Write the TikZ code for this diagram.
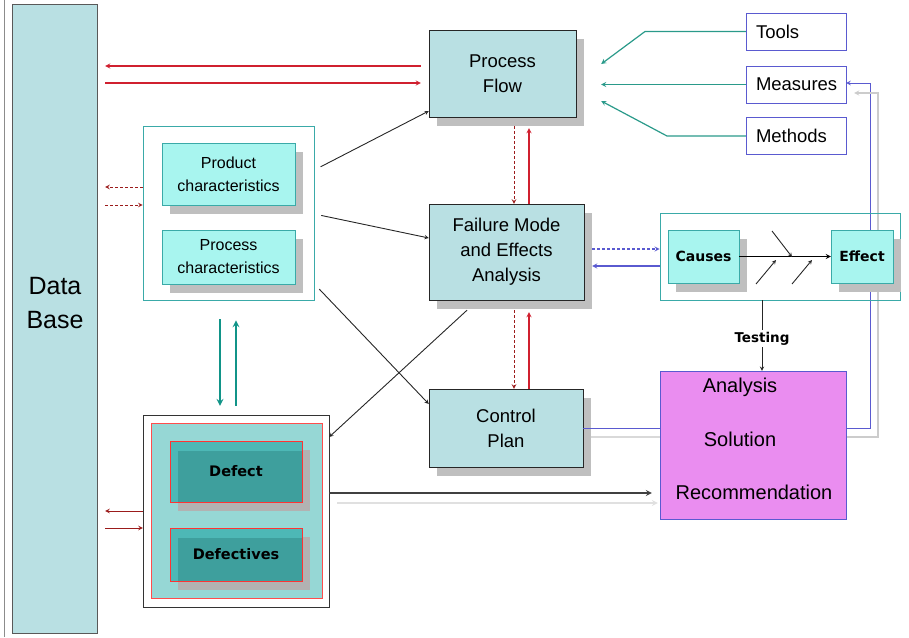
\documentclass[tikz,border=0pt]{standalone}
\usepackage{fontspec}
\setmainfont{Liberation Sans}
\newfontfamily\verdfont{DejaVu Sans}
\usetikzlibrary{shadows,backgrounds}
\definecolor{boxblue}{HTML}{B9E0E3}
\definecolor{aqua}{HTML}{A8F5EF}
\definecolor{charline}{HTML}{3AAAA8}
\definecolor{listblue}{HTML}{5A5AD0}
\definecolor{flowred}{HTML}{D0202F}
\definecolor{darkred}{HTML}{9B1B1B}
\definecolor{tooltea}{HTML}{2A9A8A}
\definecolor{thickteal}{HTML}{119488}
\definecolor{violetfill}{HTML}{EA8DF0}
\definecolor{definner}{HTML}{96D7D5}
\definecolor{defteal}{HTML}{4DB8B6}
\definecolor{defdark}{HTML}{3E9F9D}
\begin{document}
\begin{tikzpicture}[x=1pt,y=-1pt,>=stealth,
    shad/.style={drop shadow={shadow xshift=8pt,shadow yshift=-9pt,fill=black!25,opacity=1}},
    flowbox/.style={draw=black!85,fill=boxblue,align=center,font=\fontsize{18.5}{25}\selectfont,shad},
    charbox/.style={draw=charline,fill=aqua,align=center,minimum width=133pt,font=\fontsize{16}{23}\selectfont,shad},
    groupbox/.style={draw=charline,line width=0.8pt},
    listbox/.style={draw=listblue,minimum width=100pt,minimum height=37pt,text width=80pt,align=left,font=\fontsize{18.5}{22}\selectfont},
    fishbox/.style={draw=charline,fill=aqua,minimum height=53pt,font=\verdfont\bfseries\fontsize{14}{16}\selectfont,shad},
    defbox/.style={draw=red!80,fill=defteal,minimum width=132pt,font=\verdfont\bfseries\fontsize{14.5}{17}\selectfont,
        drop shadow={shadow xshift=8pt,shadow yshift=-9pt,fill=black!30,opacity=1},
        path picture={\fill[defdark] ([xshift=8pt,yshift=-10pt]path picture bounding box.north west) rectangle (path picture bounding box.south east);}},
    redarr/.style={draw=flowred,line width=1.2pt,->},
    reddash/.style={draw=darkred,densely dashed,line width=1pt,->},
    bluearr/.style={draw=listblue,line width=1.2pt},
    toolarr/.style={draw=tooltea,line width=1.2pt,->},
    tealarr/.style={draw=thickteal,line width=2pt,->},
    blackarr/.style={draw=black!85,line width=0.9pt,->},
    bigtext/.style={font=\fontsize{20}{24}\selectfont}]
    \useasboundingbox (0,0) rectangle (909,637);
    \draw[black!45] (4,0) -- (4,637);
    % Nodes
    \node[draw=black!65,fill=boxblue,minimum width=85pt,minimum height=629pt] (db) at (54.5,318.5) {};
    \node[align=center,font=\fontsize{25}{34}\selectfont] (dbtext) at (55,303) {Data\\Base};
    \node[groupbox,minimum width=171pt,minimum height=174pt] (prodgroup) at (228.5,213) {};
    \node[charbox,minimum height=62pt] (prod) at (228.5,174) {Product\\characteristics};
    \node[charbox,minimum height=54pt] (proc) at (228.5,257) {Process\\characteristics};
    \node[flowbox,minimum width=147pt,minimum height=87pt] (pf) at (502.5,73.5) {Process\\Flow};
    \node[flowbox,minimum width=155pt,minimum height=96pt] (fmea) at (506.5,252) {Failure Mode\\and Effects\\Analysis};
    \node[flowbox,minimum width=154pt,minimum height=78pt] (cp) at (506,428) {Control\\Plan};
    \node[listbox] (tools) at (796,31.5) {Tools};
    \node[listbox] (measures) at (796,84.5) {Measures};
    \node[listbox] (methods) at (796,136) {Methods};
    \node[groupbox,minimum width=240pt,minimum height=87pt] (cegroup) at (780,256.5) {};
    \node[fishbox,minimum width=71pt] (causes) at (703.5,256.5) {Causes};
    \node[fishbox,minimum width=62pt] (effect) at (862,256.5) {Effect};
    \node[draw=listblue,fill=violetfill,minimum width=186pt,minimum height=148pt] (ana) at (753,445) {};
    \node[bigtext] (anaone) at (740,387) {Analysis};
    \node[bigtext] (anatwo) at (740,439) {Solution};
    \node[bigtext] (anathree) at (754,492) {Recommendation};
    \node[draw=black!80,fill=white,minimum width=186pt,minimum height=192pt] (defgroup) at (236,511) {};
    \node[draw=red!70,fill=definner,minimum width=171pt,minimum height=175pt] (defin) at (236.5,510.5) {};
    \node[defbox,minimum height=61pt] (defect) at (236,471.5) {Defect};
    \node[defbox,minimum height=53pt] (defectives) at (236,554.5) {Defectives};
    % Fishbone points
    \coordinate (t1) at (772,231);
    \coordinate (s1) at (792,257);
    \coordinate (b1) at (756,284);
    \coordinate (s2) at (776,260);
    \coordinate (b2) at (792,284);
    \coordinate (s3) at (812,260);
    % Edges
    \path[redarr,shorten <=8pt,shorten >=8pt] (pf.west |- 0,66) to (db.east |- 0,66);
    \path[redarr,shorten <=8pt,shorten >=8pt] (db.east |- 0,83) to (pf.west |- 0,83);
    \path[reddash,shorten >=8pt] (prodgroup.west |- 0,187) to (db.east |- 0,187);
    \path[reddash,shorten <=8pt] (db.east |- 0,205) to (prodgroup.west |- 0,205);
    \path[draw=darkred,line width=1pt,->,shorten >=8pt] (defgroup.west |- 0,511) to (db.east |- 0,511);
    \path[draw=darkred,line width=1pt,->,shorten <=8pt] (db.east |- 0,528) to (defgroup.west |- 0,528);
    \path[blackarr,shorten <=7pt] (prodgroup.east |- 0,170) to (pf.west |- 0,111);
    \path[blackarr,shorten <=7pt] (prodgroup.east |- 0,214) to (fmea.west |- 0,238);
    \path[blackarr,shorten <=7pt] (prodgroup.east |- 0,284) to (cp.west |- 0,404);
    \path[blackarr] ([xshift=-39.5pt,yshift=-10pt]fmea.south) to (defgroup.east |- 0,437);
    \path[reddash,shorten <=9pt] (pf.south -| 514,0) to (fmea.north -| 514,0);
    \path[redarr,shorten >=11pt] (fmea.north -| 529,0) to (pf.south -| 529,0);
    \path[reddash,shorten <=10pt] (fmea.south -| 514,0) to (cp.north -| 514,0);
    \path[redarr,shorten >=12pt] (cp.north -| 529,0) to (fmea.south -| 529,0);
    \path[toolarr] (tools.west) -- (645,31.5) -- ([xshift=25pt,yshift=9.5pt]pf.east);
    \path[toolarr,shorten >=25pt] (measures.west) -- (pf.east |- measures.west);
    \path[toolarr] (methods.west) -- (667,136) -- ([xshift=25pt,yshift=-27.5pt]pf.east);
    \path[bluearr,densely dashed,->,shorten <=8pt] (fmea.east |- 0,249) to (cegroup.west |- 0,249);
    \path[bluearr,->,shorten >=8pt] (cegroup.west |- 0,266) to (fmea.east |- 0,266);
    \path[draw,line width=1.2pt,->] (causes.east) to (effect.west);
    \path[blackarr] (t1) to (s1);
    \path[blackarr] (b1) to (s2);
    \path[blackarr] (b2) to (s3);
    \path[blackarr] (cegroup.south -| 762,0) -- node[pos=0.54,fill=white,inner sep=2pt,text=black,font=\verdfont\bfseries\fontsize{13.5}{15}\selectfont] (testing) {Testing} (ana.north -| 762,0);
    \path[draw=listblue,line width=1pt] (cp.east |- 0,428) to (ana.west |- 0,428);
    \path[draw=black!15,line width=1.2pt,shorten <=8pt] (cp.east |- 0,437) to (ana.west |- 0,437);
    \begin{pgfonlayer}{background}
        \path[draw=listblue,line width=1pt,->] (ana.east |- 0,428) -| (870,83) -- (measures.east |- 0,83);
        \path[draw=black!20,line width=1.2pt,->,shorten >=8pt] (ana.east |- 0,437) -| (878,93) -- (measures.east |- 0,93);
    \end{pgfonlayer}
    \path[draw=black!75,line width=1.6pt,->,shorten >=8pt] (defgroup.east |- 0,493) to (ana.west |- 0,493);
    \path[draw=black!12,line width=1.6pt,->,shorten <=8pt,shorten >=2pt] (defgroup.east |- 0,503) to (ana.west |- 0,503);
    \path[tealarr,shorten <=19pt,shorten >=9pt] (prodgroup.south -| 220,0) to (defgroup.north -| 220,0);
    \path[tealarr,shorten <=9pt,shorten >=20pt] (defgroup.north -| 236,0) to (prodgroup.south -| 236,0);
\end{tikzpicture}
\end{document}
